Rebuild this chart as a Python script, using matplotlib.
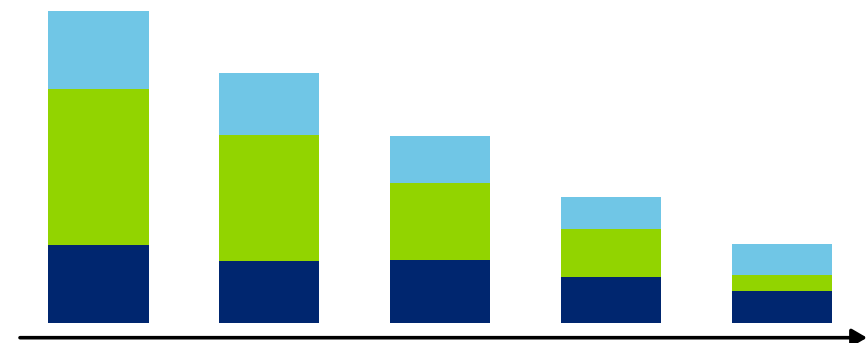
import matplotlib
matplotlib.use("Agg")
import matplotlib.pyplot as plt
import numpy as np

categories = ["A", "B", "C", "D", "E"]
navy = [78, 62, 63, 46, 32]
green = [156, 126, 77, 48, 16]
light = [78, 62, 47, 32, 31]

W, H = 867, 343
fig = plt.figure(figsize=(W / 100, H / 100), dpi=100)
base_px = 323
ax = fig.add_axes([0, (H - base_px) / H, 1, base_px / H])
spacing = 170.9
c0 = 98.5
ax.set_xlim(-c0 / spacing, (W - c0) / spacing)
ax.set_ylim(0, base_px)
x = np.arange(len(categories))
bw = 100 / spacing
navy_a = np.array(navy)
green_a = np.array(green)
light_a = np.array(light)
ax.bar(x, navy_a, width=bw, color="#00266F", linewidth=0)
ax.bar(x, green_a, width=bw, bottom=navy_a, color="#92D400", linewidth=0)
ax.bar(x, light_a, width=bw, bottom=navy_a + green_a, color="#70C6E6", linewidth=0)
ax.axis("off")

ya = (H - 337.7) / H
fig.add_artist(matplotlib.patches.FancyArrowPatch(
    (20 / W, ya), (867 / W, ya), transform=fig.transFigure,
    arrowstyle="-|>,head_length=6,head_width=3.5", mutation_scale=1.5,
    color="black", linewidth=2.6, shrinkA=0, shrinkB=0))

fig.savefig("out.png", dpi=100)
